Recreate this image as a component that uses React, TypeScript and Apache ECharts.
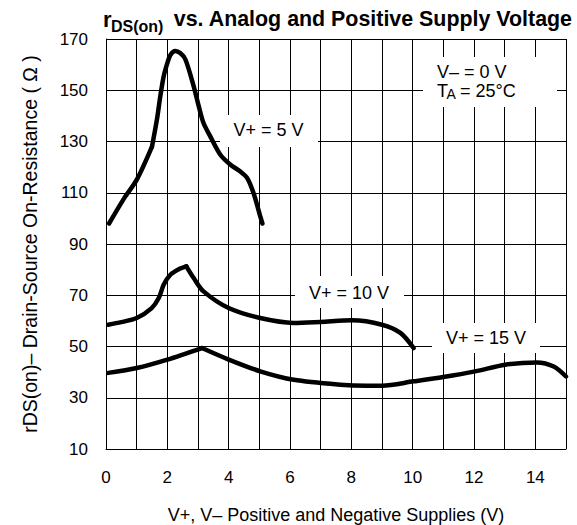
import { useEffect, useRef } from 'react';
import * as echarts from 'echarts';

const FONT = 'Liberation Sans, Arial, Helvetica, sans-serif';

const xMin = 0;
const xMax = 15;
const xStep = 1;
const yMin = 10;
const yMax = 170;
const yStep = 20;

// V+ = 5 V
const v5X = [0.1, 0.6, 1.0, 1.5, 1.66, 1.77, 1.88, 2.0, 2.1, 2.26, 2.42, 2.59, 2.86, 3.02, 3.18, 3.4, 3.73, 4.05, 4.38, 4.6, 4.81, 5.03, 5.1];
const v5Y = [98, 108, 115, 128, 138.5, 147.6, 155.4, 160.6, 163.8, 165.3, 164.5, 162, 151.5, 144, 137.2, 132, 124.8, 121, 118.3, 115.8, 109.9, 100.8, 98];
const v5Breaks = [3];

// V+ = 10 V
const v10X = [0.07, 0.5, 1.0, 1.49, 1.72, 1.88, 2.1, 2.4, 2.62, 2.86, 3.18, 4.0, 5.03, 6.12, 7.0, 8.02, 9.0, 9.6, 10.03];
const v10Y = [58.5, 59.5, 61.1, 65, 68.9, 74.1, 78, 80.3, 81.3, 76.7, 71.5, 65, 61.1, 59.2, 59.6, 60.2, 58.5, 55.3, 49.4];
const v10Breaks = [8];

// V+ = 15 V
const v15X = [0.07, 1.0, 2.0, 3.13, 4.0, 5.03, 6.12, 7.64, 8.5, 9.0, 10.03, 11.0, 12.04, 13.02, 14.05, 14.6, 15.0];
const v15Y = [39.7, 41.6, 44.9, 49.4, 44.9, 40.3, 37, 35.1, 34.7, 34.7, 36.4, 38.1, 40.3, 42.9, 43.8, 42.2, 38.3];
const v15Breaks = [3];

const titleSub = 'DS(on)';
const titleMain = 'vs. Analog and Positive Supply Voltage';
const xName = 'V+, V\u2013 Positive and Negative Supplies (V)';
const yName = 'rDS(on)\u2013 Drain-Source On-Resistance ( \u03A9 )';

function segments(xs: number[], ys: number[], breaks: number[]) {
  const cuts = [0, ...breaks, xs.length - 1];
  const out: number[][][] = [];
  for (let i = 0; i < cuts.length - 1; i++) {
    const seg: number[][] = [];
    for (let j = cuts[i]; j <= cuts[i + 1]; j++) seg.push([xs[j], ys[j]]);
    out.push(seg);
  }
  return out;
}

function range(a: number, b: number, step: number) {
  const r: number[] = [];
  for (let v = a; v <= b + 1e-9; v += step) r.push(v);
  return r;
}

export default function App() {
  const ref = useRef<HTMLDivElement>(null);
  useEffect(() => {
    document.body.style.margin = '0';
    if (!ref.current) return;
    const chart = echarts.init(ref.current, undefined, { renderer: 'svg' });
    const curves = [
      { name: 'V+ = 5 V', segs: segments(v5X, v5Y, v5Breaks) },
      { name: 'V+ = 10 V', segs: segments(v10X, v10Y, v10Breaks) },
      { name: 'V+ = 15 V', segs: segments(v15X, v15Y, v15Breaks) },
    ];
    const gridLines = [
      ...range(xMin, xMax, xStep).map((v) => ({ xAxis: v })),
      ...range(yMin, yMax, yStep).map((v) => ({ yAxis: v })),
    ];
    const series: any[] = [
      {
        type: 'line',
        name: 'grid',
        data: [[xMin, yMin]],
        symbol: 'none',
        showSymbol: false,
        lineStyle: { opacity: 0 },
        silent: true,
        z: 1,
        markLine: {
          silent: true,
          symbol: ['none', 'none'],
          animation: false,
          label: { show: false },
          lineStyle: { color: '#000', width: 1, type: 'solid', opacity: 1 },
          data: gridLines,
        },
      },
    ];
    curves.forEach((c) => {
      c.segs.forEach((s) => {
        series.push({
          type: 'line',
          name: c.name,
          data: s,
          smooth: 0.3,
          showSymbol: false,
          symbol: 'none',
          clip: false,
          lineStyle: { color: '#000', width: 4.5, cap: 'round', join: 'round' },
          z: 3,
        });
      });
    });

    const annText = (text: string, x: number, y: number, align = 'center', size = 18) => ({
      type: 'text',
      x,
      y,
      z: 101,
      style: {
        text,
        fill: '#000',
        fontSize: size,
        fontFamily: FONT,
        align,
        verticalAlign: 'middle',
      },
    });
    const box = (x: number, y: number, w: number, h: number) => ({
      type: 'rect',
      z: 100,
      shape: { x, y, width: w, height: h },
      style: { fill: '#fff' },
    });

    chart.setOption({
      animation: false,
      backgroundColor: '#fff',
      grid: { left: 106, right: 11, top: 39, bottom: 76, containLabel: false, outerBoundsMode: 'none' },
      xAxis: {
        type: 'value',
        min: xMin,
        max: xMax,
        interval: xStep,
        name: xName,
        nameLocation: 'middle',
        nameGap: 57,
        nameTextStyle: { fontSize: 18, color: '#000', fontFamily: FONT },
        axisLine: { show: true, onZero: false, lineStyle: { color: '#000', width: 1 } },
        axisTick: { show: false },
        axisLabel: {
          margin: 20,
          fontSize: 17,
          color: '#000',
          fontFamily: FONT,
          formatter: (v: number) => (v % 2 === 0 && v < xMax ? String(v) : ''),
        },
        splitLine: { show: false },
      },
      yAxis: {
        type: 'value',
        min: yMin,
        max: yMax,
        interval: yStep,
        name: yName,
        nameLocation: 'middle',
        nameRotate: 90,
        nameGap: 66,
        nameTextStyle: { fontSize: 19.5, color: '#000', fontFamily: FONT },
        axisLine: { show: true, lineStyle: { color: '#000', width: 1 } },
        axisTick: { show: false },
        axisLabel: { margin: 18, fontSize: 17, color: '#000', fontFamily: FONT },
        splitLine: { show: false },
      },
      graphic: [
        {
          type: 'text', x: 103, y: 19, z: 101,
          style: { text: 'r', fontSize: 22, fontWeight: 'bold', fontFamily: FONT, fill: '#000', align: 'left', verticalAlign: 'middle' },
        },
        {
          type: 'text', x: 111, y: 26, z: 101,
          style: { text: titleSub, fontSize: 16, fontWeight: 'bold', fontFamily: FONT, fill: '#000', align: 'left', verticalAlign: 'middle' },
        },
        {
          type: 'text', x: 572, y: 19, z: 101,
          style: { text: titleMain, fontSize: 21.4, fontWeight: 'bold', fontFamily: FONT, fill: '#000', align: 'right', verticalAlign: 'middle' },
        },
        box(220, 115, 98, 32),
        annText('V+ = 5 V', 268.5, 129.5),
        box(295, 276, 109, 32),
        annText('V+ = 10 V', 349, 293),
        box(432, 323, 108, 30),
        annText('V+ = 15 V', 486, 337.5),
        box(423, 57, 134, 50),
        annText('V\u2013 = 0 V', 437, 72, 'left'),
        annText('T', 437, 90.5, 'left'),
        annText('A', 446.5, 94, 'left', 14),
        annText('= 25\u00B0C', 460, 90.5, 'left'),
      ],
      series,
    });
    return () => chart.dispose();
  }, []);
  return <div ref={ref} style={{ position: 'fixed', left: 0, top: 0, width: 577, height: 525 }} />;
}
